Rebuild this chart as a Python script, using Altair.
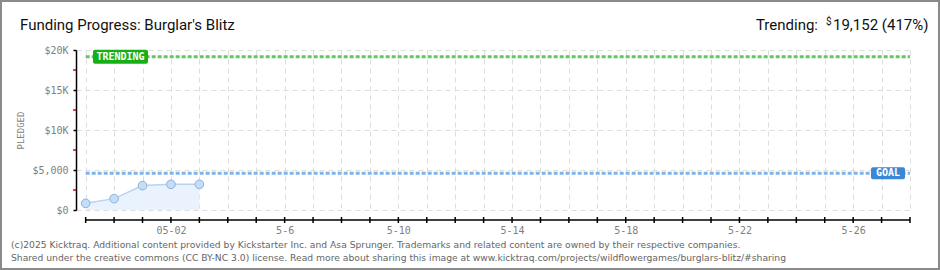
import json
import altair as alt
import pandas as pd

# ---------------- data ----------------
dates = ["2025-04-29", "2025-04-30", "2025-05-01", "2025-05-02", "2025-05-03"]
pledged = [830, 1420, 3050, 3210, 3210]
goal = 4593
trending = 19152
trend_pct = 417
axis_start = "2025-04-29"
axis_end = "2025-05-28"
y_ticks = [0, 5000, 10000, 15000, 20000]
y_tick_labels = ["$0", "$5,000", "$10K", "$15K", "$20K"]
y_minor = [2500, 7500, 12500, 17500]
x_label_dates = ["2025-05-02", "2025-05-06", "2025-05-10", "2025-05-14",
                 "2025-05-18", "2025-05-22", "2025-05-26"]
x_label_text = ["05-02", "5-6", "5-10", "5-14", "5-18", "5-22", "5-26"]
title_text = "Funding Progress: Burglar's Blitz"
footer_lines = [
    "(c)2025 Kicktraq. Additional content provided by Kickstarter Inc. and Asa Sprunger. Trademarks and related content are owned by their respective companies.",
    "Shared under the creative commons (CC BY-NC 3.0) license. Read more about sharing this image at www.kicktraq.com/projects/wildflowergames/burglars-blitz/#sharing",
]

# ---------------- derived tables ----------------
t0 = pd.Timestamp(axis_start)
def day_of(d):
    return (pd.Timestamp(d) - t0).days

n_days = day_of(axis_end)
all_days = list(range(0, n_days + 1))
label_days = [day_of(d) for d in x_label_dates]

df = pd.DataFrame({"day": [day_of(d) for d in dates], "pledged": pledged})
days_df = pd.DataFrame({"day": all_days})
span_df = pd.DataFrame({"day": [0], "d1": [n_days], "pledged": [goal], "trend": [trending]})
trend_df = pd.DataFrame({"day": [0], "d1": [n_days], "pledged": [trending]})
minor_df = pd.DataFrame({"pledged": y_minor})

W, H = 834, 160
MONO = "DejaVu Sans Mono"
HEAD = "Roboto"

x_scale = alt.Scale(domain=[-0.34, n_days], nice=False, zero=False)
y_scale = alt.Scale(domain=[0, 20000], nice=False, zero=True)

x_label_expr = (f"indexof({json.dumps(label_days)}, datum.value) >= 0 ? "
                f"{json.dumps(x_label_text)}[indexof({json.dumps(label_days)}, datum.value)] : ''")
y_label_expr = (f"indexof({json.dumps(y_ticks)}, datum.value) >= 0 ? "
                f"{json.dumps(y_tick_labels)}[indexof({json.dumps(y_ticks)}, datum.value)] : ''")

x_axis = alt.Axis(values=all_days, labelExpr=x_label_expr, domain=False, ticks=False,
                  grid=True, gridColor="#dddddd", gridDash=[5, 4], gridWidth=1,
                  offset=10, labelPadding=5, labelFont=MONO, labelFontSize=10,
                  labelColor="#808080", title=None, labelFlush=False, labelOverlap=False)
y_axis = alt.Axis(values=y_ticks, labelExpr=y_label_expr, domain=True, domainColor="#000000",
                  domainWidth=1.5, ticks=True, tickColor="#000000", tickSize=3, tickWidth=1.5,
                  grid=True, gridColor="#dddddd", gridDash=[5, 4], gridWidth=1,
                  labelPadding=5, labelFont=MONO, labelFontSize=10, labelColor="#808080",
                  title="PLEDGED", titleFont=MONO, titleFontSize=9, titleFontWeight="normal",
                  titleColor="#808080", titleAngle=270, titleX=-56, titleY=80,
                  titleAlign="center", titleBaseline="middle")

X = alt.X("day:Q", scale=x_scale, axis=x_axis)
Y = alt.Y("pledged:Q", scale=y_scale, axis=y_axis)

area = alt.Chart(df).mark_area(color="#eaf3fd", opacity=1).encode(x=X, y=Y)
line = alt.Chart(df).mark_line(color="#b7d3f2", strokeWidth=1.5).encode(x=X, y=Y)
points = alt.Chart(df).mark_point(filled=True, size=75, fill="#c4ddf9", stroke="#8fb0d8",
                                  strokeWidth=1, opacity=1).encode(x=X, y=Y)

goal_rule = alt.Chart(span_df).mark_rule(color="#7fb3ea", strokeWidth=3, strokeDash=[4, 2]).encode(
    x=X, x2="d1:Q", y=Y)
trend_rule = alt.Chart(trend_df).mark_rule(color="#62c862", strokeWidth=3, strokeDash=[4, 2]).encode(
    x=X, x2="d1:Q", y=Y)

# x axis line and crossing ticks
x_line = alt.Chart(span_df).mark_rule(color="#000000", strokeWidth=1.5).encode(
    x=X, x2="d1:Q", y=alt.value(H + 10))
x_ticks = alt.Chart(days_df).mark_rule(color="#000000", strokeWidth=1.5).encode(
    x=X, y=alt.value(H + 7), y2=alt.value(H + 13))
minor_ticks = alt.Chart(minor_df).mark_rule(color="#e00000", strokeWidth=1.5).encode(
    y=Y, x=alt.value(-3), x2=alt.value(0))

# labels on the reference lines
trend_box = alt.Chart(trend_df).mark_rect(color="#16b016", cornerRadius=2, yOffset=-7, y2Offset=7).encode(
    x=alt.value(17), x2=alt.value(72), y=Y, y2="pledged:Q")
trend_lbl = alt.Chart(trend_df).mark_text(text="TRENDING", color="white", font=MONO, fontSize=10,
                                          fontWeight="bold", align="center", baseline="middle").encode(
    x=alt.value(44.5), y=Y)
goal_box = alt.Chart(span_df).mark_rect(color="#3a87d6", cornerRadius=2, yOffset=-6, y2Offset=6).encode(
    x=alt.value(795), x2=alt.value(829), y=Y, y2="pledged:Q")
goal_lbl = alt.Chart(span_df).mark_text(text="GOAL", color="white", font=MONO, fontSize=10,
                                        fontWeight="bold", align="center", baseline="middle").encode(
    x=alt.value(812), y=Y)

# header / footer
hdr = pd.DataFrame({"title": [title_text],
                    "tlabel": ["Trending:"],
                    "tval": [f"{trending:,} ({trend_pct}%)"],
                    "f0": [footer_lines[0]],
                    "f1": [footer_lines[1]]})
title_mark = alt.Chart(hdr).mark_text(align="left", baseline="alphabetic", fontSize=15,
                                      font=HEAD, color="#111111").encode(
    text="title:N", x=alt.value(-56), y=alt.value(-20))
tlabel_mark = alt.Chart(hdr).mark_text(align="right", baseline="alphabetic", fontSize=15,
                                       font=HEAD, color="#111111").encode(
    text="tlabel:N", x=alt.value(742), y=alt.value(-20))
dollar_mark = alt.Chart(hdr).mark_text(text="$", align="left", baseline="alphabetic", fontSize=10,
                                       font=HEAD, color="#111111").encode(
    x=alt.value(750), y=alt.value(-25))
tval_mark = alt.Chart(hdr).mark_text(align="left", baseline="alphabetic", fontSize=15,
                                     font=HEAD, color="#111111").encode(
    text="tval:N", x=alt.value(757), y=alt.value(-20))

foot0 = alt.Chart(hdr).mark_text(align="left", baseline="alphabetic", fontSize=9.2,
                                 font="DejaVu Sans", color="#666666").encode(
    text="f0:N", x=alt.value(-65), y=alt.value(197.5))
foot1 = alt.Chart(hdr).mark_text(align="left", baseline="alphabetic", fontSize=9.2,
                                 font="DejaVu Sans", color="#666666").encode(
    text="f1:N", x=alt.value(-65), y=alt.value(210.5))

border = alt.Chart(hdr).mark_rect(fill=None, stroke="#8a8a8a", strokeWidth=2).encode(
    x=alt.value(-75), x2=alt.value(863), y=alt.value(-49), y2=alt.value(219))

chart = alt.layer(
    area, line, goal_rule, trend_rule, points, x_line, x_ticks, minor_ticks,
    trend_box, trend_lbl, goal_box, goal_lbl,
    title_mark, tlabel_mark, dollar_mark, tval_mark, foot0, foot1, border
).properties(
    width=W, height=H,
    padding={"left": 76, "top": 50, "right": 30, "bottom": 60},
    autosize=alt.AutoSizeParams(type="none"),
    background="white",
).configure_view(strokeWidth=0)

chart.save("out.html", embed_options={"renderer": "svg", "actions": False})
